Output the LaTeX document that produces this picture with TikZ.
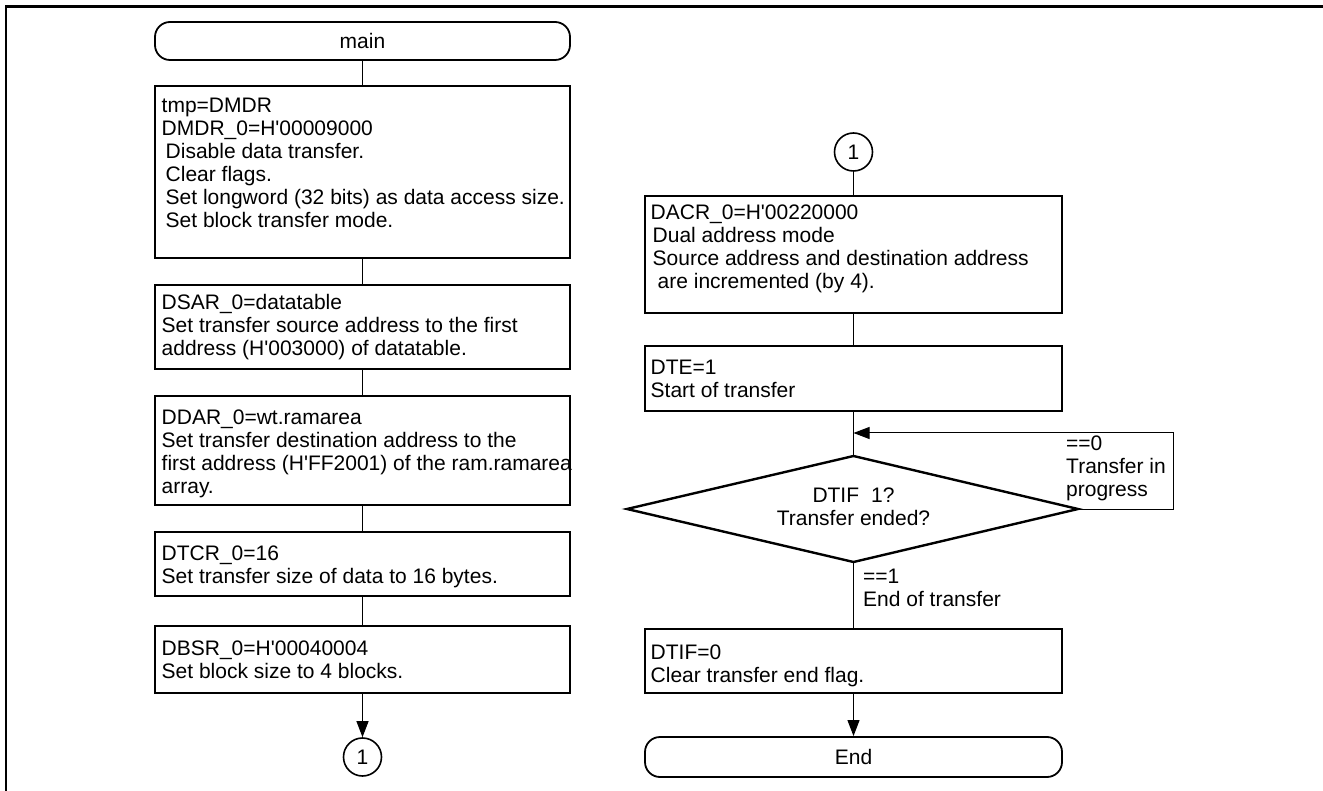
\documentclass[tikz,border=0pt]{standalone}
\usepackage{fontspec}
\setmainfont{Liberation Sans}
\usetikzlibrary{arrows.meta}
\newcommand\fsz{\fontsize{21}{23}\selectfont}
\newcommand\q{\textquotesingle}
\tikzset{
  box/.style={draw, line width=1.8pt, rectangle, inner sep=0pt},
  term/.style={draw, line width=1.8pt, rectangle, rounded corners=15pt, inner sep=0pt, font=\fsz},
  conn/.style={line width=1pt},
  arr/.style={line width=1pt, -{Triangle[length=16pt,width=12pt]}},
  txt/.style={anchor=north west, inner sep=0pt, align=left, font=\fsz},
  lbl/.style={anchor=north west, inner sep=0pt, align=left, font=\fsz},
  conn1/.style={draw, circle, line width=1.6pt, minimum size=38pt, inner sep=0pt, font=\fsz}
}
\begin{document}
\begin{tikzpicture}[x=1pt,y=-1pt]
\useasboundingbox (0,0) rectangle (1323,791);
\fill[white] (0,0) rectangle (1323,791);
% frame
\coordinate (fbl) at (6,791);
\coordinate (ftl) at (6,6.5);
\coordinate (ftr) at (1323,6.5);
\draw[line width=2.6pt] (fbl) -- (ftl) -- (ftr);

% left column
\node[term, minimum width=415pt, minimum height=38pt] (main) at (362.5,41) {main};
\node[box, minimum width=415pt, minimum height=172pt] (b1) at (362.5,172) {};
\node[box, minimum width=415pt, minimum height=84pt] (b2) at (362.5,327) {};
\node[box, minimum width=415pt, minimum height=109pt] (b3) at (362.5,450.5) {};
\node[box, minimum width=415pt, minimum height=64pt] (b4) at (362.5,564) {};
\node[box, minimum width=415pt, minimum height=67pt] (b5) at (362.5,659.5) {};
\node[conn1] (c1) at (362.5,757) {1};

\node[txt] (t1) at (161.5,96.4) {\strut tmp=DMDR\\DMDR\_0=H\q00009000\\\hspace{4pt}Disable data transfer.\\\hspace{4pt}Clear flags.\\\hspace{4pt}Set longword (32 bits) as data access size.\\\hspace{4pt}Set block transfer mode.};
\node[txt] (t2) at (161.5,293.4) {\strut DSAR\_0=datatable\\Set transfer source address to the first\\address (H\q003000) of datatable.};
\node[txt] (t3) at (161.5,408.4) {\strut DDAR\_0=wt.ramarea\\Set transfer destination address to the\\first address (H\q FF2001) of the ram.ramarea\\array.};
\node[txt] (t4) at (161.5,544.4) {\strut DTCR\_0=16\\Set transfer size of data to 16 bytes.};
\node[txt] (t5) at (161.5,639.4) {\strut DBSR\_0=H\q00040004\\Set block size to 4 blocks.};

\draw[conn] (main.south) -- (b1.north);
\draw[conn] (b1.south) -- (b2.north);
\draw[conn] (b2.south) -- (b3.north);
\draw[conn] (b3.south) -- (b4.north);
\draw[conn] (b4.south) -- (b5.north);
\draw[arr] (b5.south) -- (c1.north);

% right column
\node[conn1] (c2) at (853.5,152) {1};
\node[box, minimum width=417pt, minimum height=117pt] (r1) at (853.5,254.5) {};
\node[box, minimum width=417pt, minimum height=65pt] (r2) at (853.5,378.5) {};
\node[box, minimum width=417pt, minimum height=64pt] (r3) at (853.5,661) {};
\node[term, minimum width=417pt, minimum height=40pt] (endt) at (853.5,757) {End};

\node[txt] (s1) at (650.5,203.4) {\strut DACR\_0=H\q00220000\\\hspace{2pt}Dual address mode\\\hspace{2pt}Source address and destination address\\\hspace{7pt}are incremented (by 4).};
\node[txt] (s2) at (650.5,358.4) {\strut DTE=1\\Start of transfer};
\node[txt] (s3) at (650.5,643.4) {\strut DTIF=0\\Clear transfer end flag.};

% decision
\coordinate (dT) at (853.5,456);
\coordinate (dL) at (627,509);
\coordinate (dR) at (1078,509);
\coordinate (dB) at (853.5,562);
\draw[line width=2.4pt, line join=miter] (dT) -- (dR) -- (dB) -- (dL) -- cycle;
\node[font=\fsz, align=center, inner sep=0pt] (dq) at (853.5,507) {DTIF\hspace{12pt}1?\\Transfer ended?};

\coordinate (lp) at (1173,433);
\coordinate (jn) at (853.5,433);

\draw[conn] (c2.south) -- (r1.north);
\draw[conn] (r1.south) -- (r2.north);
\draw[conn] (r2.south) -- (dT);
\draw[arr] (dR) -| (lp) -- (jn);
\draw[conn] (dB) -- (r3.north);
\draw[arr] (r3.south) -- (endt.north);

\node[lbl] (l0) at (1066,434.4) {\strut ==0\\Transfer in\\progress};
\node[lbl] (l1) at (863,567.4) {\strut ==1\\End of transfer};
\end{tikzpicture}
\end{document}
